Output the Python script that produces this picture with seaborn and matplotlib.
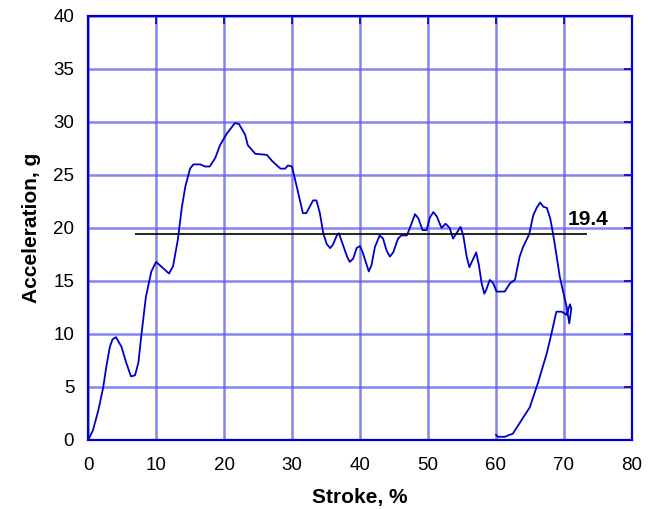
import numpy as np
import pandas as pd
import matplotlib
matplotlib.use('Agg')
import matplotlib.pyplot as plt
import seaborn as sns

# Curva aceleración vs carrera (ida y retorno)
stroke = [0, 0.7, 1.5, 2.2, 2.7, 3.2, 3.6, 4.1, 4.9, 5.6, 6.3, 6.9, 7.4,
          7.8, 8.5, 9.3, 10.0, 10.7, 11.9, 12.5, 13.2, 13.8, 14.3, 15.0,
          15.5, 16.5, 17.2, 17.9, 18.7, 19.4, 20.4, 21.6, 22.2, 23.1, 23.5,
          24.6, 26.3, 27.1, 28.3, 29.0, 29.4, 30.0, 30.7, 31.6, 32.1, 33.1,
          33.6, 34.1, 34.6, 35.1, 35.6, 36.0, 36.6, 36.9, 37.5, 38.1, 38.5,
          39.0, 39.5, 40.0, 40.4, 40.9, 41.3, 41.7, 42.2, 42.9, 43.4, 43.9,
          44.4, 44.9, 45.6, 46.1, 46.9, 47.4, 48.1, 48.6, 49.2, 49.8, 50.3,
          50.8, 51.3, 52.0, 52.6, 53.2, 53.7, 54.2, 54.8, 55.2, 55.7, 56.1,
          56.6, 57.1, 57.5, 57.9, 58.3, 58.6, 59.1, 59.6, 60.1, 61.3, 62.1,
          62.8, 63.5, 64.0, 64.9, 65.5, 66.0, 66.5, 67.0, 67.5, 68.0, 68.4,
          68.9, 69.4, 69.9, 70.4, 70.8, 71.1, 70.9, 70.4, 69.7, 68.9, 68.2,
          67.5, 66.2, 65.0, 63.5, 62.5, 61.3, 60.3, 60.0]
accel = [0, 0.9, 2.8, 4.9, 7.0, 8.8, 9.5, 9.7, 8.8, 7.3, 6.0, 6.1, 7.3,
         9.7, 13.5, 15.9, 16.8, 16.4, 15.7, 16.4, 18.9, 22.0, 23.9, 25.6,
         26.0, 26.0, 25.8, 25.8, 26.6, 27.8, 28.9, 29.9, 29.8, 28.8, 27.8,
         27.0, 26.9, 26.3, 25.6, 25.6, 25.9, 25.8, 23.9, 21.4, 21.4, 22.6,
         22.6, 21.4, 19.5, 18.5, 18.1, 18.4, 19.3, 19.5, 18.4, 17.3, 16.8,
         17.1, 18.1, 18.3, 17.7, 16.7, 15.9, 16.5, 18.2, 19.3, 19.0, 17.9,
         17.3, 17.7, 19.0, 19.3, 19.3, 20.1, 21.3, 20.9, 19.8, 19.8, 21.0,
         21.5, 21.1, 20.0, 20.4, 20.0, 19.0, 19.5, 20.1, 19.3, 17.3, 16.3,
         17.0, 17.7, 16.5, 14.8, 13.8, 14.2, 15.1, 14.8, 14.0, 14.0, 14.8,
         15.1, 17.3, 18.2, 19.4, 21.2, 21.9, 22.4, 22.0, 21.9, 20.9, 19.5,
         17.5, 15.4, 14.0, 12.6, 11.0, 12.4, 12.8, 11.8, 12.1, 12.1, 10.1,
         8.2, 5.4, 3.1, 1.6, 0.6, 0.3, 0.3, 0.5]

mean_level = 19.4
mean_span = [6.9, 73.4]

x_ticks = [0, 10, 20, 30, 40, 50, 60, 70, 80]
y_ticks = [0, 5, 10, 15, 20, 25, 30, 35, 40]

sns.set_style('white')
plt.rcParams['font.family'] = ['Liberation Sans', 'DejaVu Sans']
plt.rcParams['text.color'] = 'black'
plt.rcParams['axes.labelcolor'] = 'black'

df = pd.DataFrame({'stroke': stroke, 'accel': accel})

fig = plt.figure(figsize=(6.48, 5.09), dpi=100)
ax = fig.add_axes([0.136, 0.1356, 0.839, 0.833])

sns.lineplot(data=df, x='stroke', y='accel', sort=False, estimator=None,
             color='#0000cc', linewidth=1.3, ax=ax)
ax.hlines(mean_level, mean_span[0], mean_span[1], color='black', linewidth=1.2)
ax.text(70.6, 20.3, f'{mean_level:.1f}', fontsize=15,
        fontweight='bold', ha='left', va='baseline')

ax.set_xlim(0, 80)
ax.set_ylim(0, 40)
ax.set_xticks(x_ticks)
ax.set_yticks(y_ticks)
ax.grid(True, color='#5c5cee', alpha=0.75, linewidth=1.8)
ax.set_axisbelow(True)

for s in ax.spines.values():
    s.set_color('#0000cc')
    s.set_linewidth(1.6)
ax.tick_params(direction='in', length=6, width=1.2, color='#0000cc',
               labelcolor='black', top=True, right=True, labelsize=13.5)
ax.tick_params(axis='x', pad=12)
ax.tick_params(axis='y', pad=10)

ax.set_xlabel('Stroke, %', fontsize=15, fontweight='bold', labelpad=10)
ax.set_ylabel('Acceleration, g', fontsize=15, fontweight='bold', labelpad=9)

plt.savefig('out.png', dpi=100)
